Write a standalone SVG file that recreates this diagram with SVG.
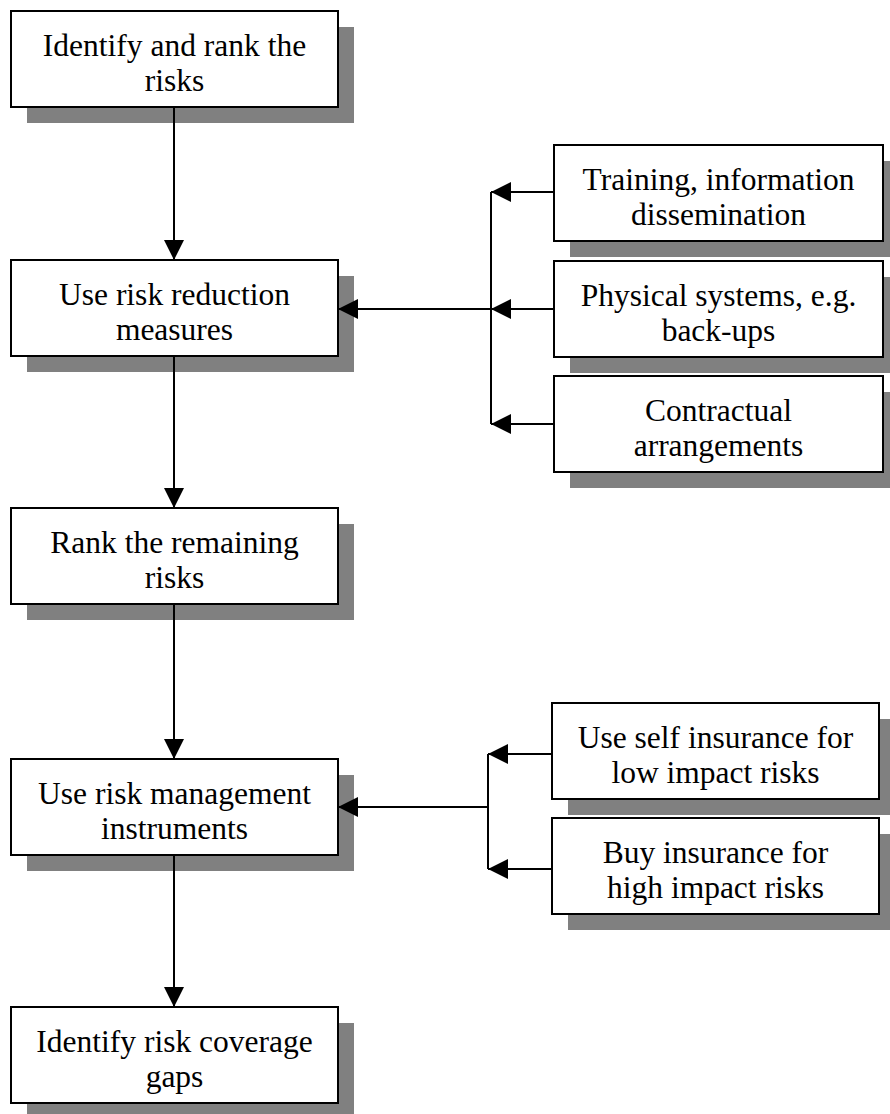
<svg xmlns="http://www.w3.org/2000/svg" width="890" height="1114" viewBox="0 0 890 1114">
<style>
.sh{fill:#808080;stroke:none}
.bx{fill:#fff;stroke:#000;stroke-width:2}
.t{font-family:"Liberation Serif","Times New Roman",serif;font-size:31.5px;fill:#000;text-anchor:middle}
.c{fill:none;stroke:#000;stroke-width:2}
</style>
<defs>
<marker id="ah" markerUnits="userSpaceOnUse" markerWidth="20" markerHeight="20" refX="20" refY="10" orient="auto" viewBox="0 0 20 20">
<path d="M0,0 L20,10 L0,20 z" fill="#000"/>
</marker>
</defs>
<rect width="890" height="1114" fill="#fff"/>

<g id="n1"><rect class="sh" x="27" y="27" width="327" height="96"/><rect class="bx" x="11" y="11" width="327" height="96"/>
<text class="t" x="174.5" y="56">Identify and rank the</text><text class="t" x="174.5" y="91">risks</text></g>

<g id="n2"><rect class="sh" x="27" y="276" width="327" height="96"/><rect class="bx" x="11" y="260" width="327" height="96"/>
<text class="t" x="174.5" y="305">Use risk reduction</text><text class="t" x="174.5" y="340">measures</text></g>

<g id="n3"><rect class="sh" x="27" y="524" width="327" height="96"/><rect class="bx" x="11" y="508" width="327" height="96"/>
<text class="t" x="174.5" y="553">Rank the remaining</text><text class="t" x="174.5" y="588">risks</text></g>

<g id="n4"><rect class="sh" x="27" y="775" width="327" height="96"/><rect class="bx" x="11" y="759" width="327" height="96"/>
<text class="t" x="174.5" y="804">Use risk management</text><text class="t" x="174.5" y="839">instruments</text></g>

<g id="n5"><rect class="sh" x="27" y="1023" width="327" height="96"/><rect class="bx" x="11" y="1007" width="327" height="96"/>
<text class="t" x="174.5" y="1052">Identify risk coverage</text><text class="t" x="174.5" y="1087">gaps</text></g>

<g id="r1"><rect class="sh" x="570" y="161" width="329" height="96"/><rect class="bx" x="554" y="145" width="329" height="96"/>
<text class="t" x="718.5" y="190">Training, information</text><text class="t" x="718.5" y="225">dissemination</text></g>

<g id="r2"><rect class="sh" x="570" y="277" width="329" height="96"/><rect class="bx" x="554" y="261" width="329" height="96"/>
<text class="t" x="718.5" y="306">Physical systems, e.g.</text><text class="t" x="718.5" y="341">back-ups</text></g>

<g id="r3"><rect class="sh" x="570" y="392" width="329" height="96"/><rect class="bx" x="554" y="376" width="329" height="96"/>
<text class="t" x="718.5" y="421">Contractual</text><text class="t" x="718.5" y="456">arrangements</text></g>

<g id="r4"><rect class="sh" x="568" y="719" width="327" height="96"/><rect class="bx" x="552" y="703" width="327" height="96"/>
<text class="t" x="715.5" y="748">Use self insurance for</text><text class="t" x="715.5" y="783">low impact risks</text></g>

<g id="r5"><rect class="sh" x="568" y="834" width="327" height="96"/><rect class="bx" x="552" y="818" width="327" height="96"/>
<text class="t" x="715.5" y="863">Buy insurance for</text><text class="t" x="715.5" y="898">high impact risks</text></g>

<g id="connectors">
<line class="c" x1="174" y1="107" x2="174" y2="260" marker-end="url(#ah)"/>
<line class="c" x1="174" y1="356" x2="174" y2="508" marker-end="url(#ah)"/>
<line class="c" x1="174" y1="604" x2="174" y2="759" marker-end="url(#ah)"/>
<line class="c" x1="174" y1="855" x2="174" y2="1007" marker-end="url(#ah)"/>
<line class="c" x1="491" y1="192" x2="491" y2="424"/>
<line class="c" x1="554" y1="192" x2="491" y2="192" marker-end="url(#ah)"/>
<line class="c" x1="554" y1="309" x2="491" y2="309" marker-end="url(#ah)"/>
<line class="c" x1="554" y1="424" x2="491" y2="424" marker-end="url(#ah)"/>
<line class="c" x1="491" y1="309" x2="338" y2="309" marker-end="url(#ah)"/>
<line class="c" x1="488" y1="754" x2="488" y2="869"/>
<line class="c" x1="552" y1="754" x2="488" y2="754" marker-end="url(#ah)"/>
<line class="c" x1="552" y1="869" x2="488" y2="869" marker-end="url(#ah)"/>
<line class="c" x1="488" y1="807" x2="338" y2="807" marker-end="url(#ah)"/>
</g>
</svg>
